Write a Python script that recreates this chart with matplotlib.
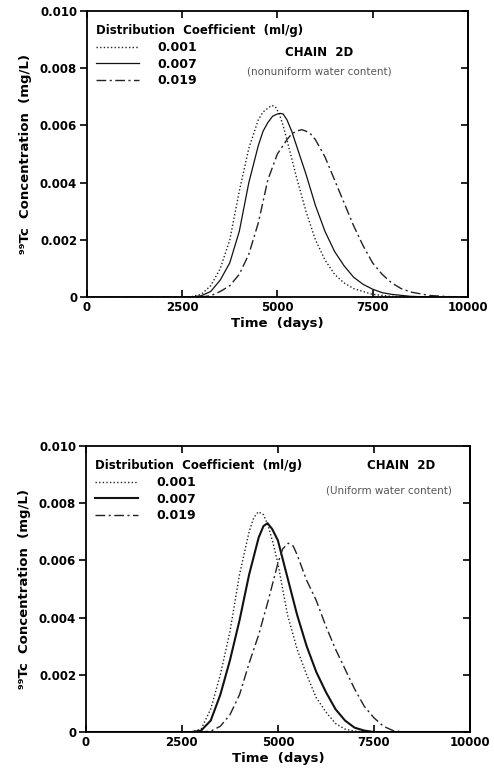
import matplotlib.pyplot as plt

plt.rcParams['font.family'] = ['DejaVu Sans']

# 时间 (days) 与浓度 (mg/L)
KD_LABELS = ['0.001', '0.007', '0.019']
LEGEND_TITLE = 'Distribution  Coefficient  (ml/g)'

# 上图: nonuniform water content
top_x_001 = [0, 2500, 2750, 3000, 3250, 3500, 3750, 4000, 4250, 4500, 4625, 4750, 4850, 4950,
             5050, 5150, 5250, 5500, 5750, 6000, 6250, 6500, 6750, 7000, 7500, 8000, 8500, 9000, 10000]
top_y_001 = [0, 0, 0.00002, 0.0001, 0.0004, 0.0010, 0.0020, 0.0037, 0.0052, 0.0062, 0.00647, 0.0066,
             0.0067, 0.00665, 0.0064, 0.0060, 0.0055, 0.0042, 0.0030, 0.0020, 0.0013, 0.0008, 0.0005,
             0.0003, 0.0001, 0.00003, 0.00001, 0, 0]

top_x_007 = [0, 2500, 2750, 3000, 3250, 3500, 3750, 4000, 4250, 4500, 4625, 4750, 4875, 5000, 5070,
             5150, 5250, 5375, 5500, 5750, 6000, 6250, 6500, 6750, 7000, 7250, 7500, 7750, 8000,
             8500, 9000, 9500, 10000]
top_y_007 = [0, 0, 0.00001, 0.00005, 0.0002, 0.0006, 0.0012, 0.0023, 0.0040, 0.0053, 0.0058, 0.0061,
             0.00632, 0.0064, 0.00642, 0.0064, 0.0062, 0.0058, 0.0053, 0.0043, 0.0032, 0.0023, 0.0016,
             0.0011, 0.0007, 0.00045, 0.00028, 0.00016, 0.0001, 0.00003, 0.00001, 0, 0]

top_x_019 = [0, 3000, 3250, 3500, 3750, 4000, 4250, 4500, 4750, 5000, 5250, 5375, 5500, 5640, 5750,
             5875, 6000, 6250, 6500, 6750, 7000, 7250, 7500, 7750, 8000, 8250, 8500, 9000, 9500, 10000]
top_y_019 = [0, 0.00001, 0.00005, 0.0002, 0.0004, 0.0008, 0.0015, 0.0026, 0.0041, 0.0050, 0.0055,
             0.0057, 0.0058, 0.00585, 0.0058, 0.0057, 0.0055, 0.0049, 0.0041, 0.0033, 0.0025, 0.0018,
             0.0012, 0.0008, 0.0005, 0.0003, 0.00018, 0.00006, 0.00002, 0]

# 下图: uniform water content
bot_x_001 = [0, 2750, 3000, 3250, 3500, 3750, 4000, 4250, 4375, 4490, 4625, 4750, 4875, 5000, 5250,
             5500, 5750, 6000, 6250, 6500, 6750, 7000, 7250, 10000]
bot_y_001 = [0, 0, 0.0001, 0.0008, 0.0020, 0.0035, 0.0055, 0.0070, 0.0075, 0.0077, 0.0076, 0.0072,
             0.0066, 0.0059, 0.0041, 0.0029, 0.0020, 0.0012, 0.0007, 0.0003, 0.0001, 0.00003, 0, 0]

bot_x_007 = [0, 2750, 3000, 3250, 3500, 3750, 4000, 4250, 4500, 4625, 4730, 4850, 5000, 5250, 5500,
             5750, 6000, 6250, 6500, 6750, 7000, 7250, 7500, 10000]
bot_y_007 = [0, 0, 0.00005, 0.0004, 0.0013, 0.0025, 0.0039, 0.0055, 0.0068, 0.0072, 0.0073, 0.0071,
             0.0067, 0.0054, 0.0041, 0.0030, 0.0021, 0.0014, 0.0008, 0.0004, 0.00015, 0.00005, 0, 0]

bot_x_019 = [0, 3000, 3250, 3500, 3750, 4000, 4250, 4500, 4750, 5000, 5125, 5270, 5400, 5500, 5750,
             6000, 6250, 6500, 6750, 7000, 7250, 7500, 7750, 8000, 8250, 10000]
bot_y_019 = [0, 0, 0.00003, 0.0002, 0.0006, 0.0013, 0.0024, 0.0034, 0.0046, 0.0059, 0.0064, 0.0066,
             0.0065, 0.0062, 0.0053, 0.0046, 0.0037, 0.0029, 0.0022, 0.0015, 0.0009, 0.0005, 0.0002,
             0.00005, 0, 0]

X_TICKS = [0, 2500, 5000, 7500, 10000]
Y_TICKS = [0, 0.002, 0.004, 0.006, 0.008, 0.010]
Y_TICK_LABELS = ['0', '0.002', '0.004', '0.006', '0.008', '0.010']


def style_axes(ax):
    ax.set_xlim(0, 10000)
    ax.set_ylim(0, 0.010)
    ax.set_xticks(X_TICKS)
    ax.set_xticklabels([str(t) for t in X_TICKS], fontsize=8.5, fontweight='bold')
    ax.set_yticks(Y_TICKS)
    ax.set_yticklabels(Y_TICK_LABELS, fontsize=8.5, fontweight='bold')
    ax.tick_params(axis='y', which='both', direction='out', length=5, width=1.2, pad=2, right=False)
    ax.tick_params(axis='x', which='both', direction='in', length=5, width=1.2, pad=3, top=True)
    # 右侧刻度朝内
    ax2 = ax.secondary_yaxis('right')
    ax2.set_yticks(Y_TICKS)
    ax2.tick_params(direction='in', length=5, width=1.2, labelright=False)
    for sp in ax.spines.values():
        sp.set_linewidth(1.3)
    ax2.spines['right'].set_linewidth(1.3)
    ax.set_xlabel('Time  (days)', fontsize=9.5, fontweight='bold', labelpad=2)
    ax.set_ylabel('⁹⁹Tc  Concentration  (mg/L)', fontsize=9.5, fontweight='bold', labelpad=6)


def draw_panel(ax, series, solid_lw, note_chain, note_sub):
    styles = [
        dict(linestyle=(0, (1, 1.6)), color='#222222', linewidth=1.0),
        dict(linestyle='-', color='#111111', linewidth=solid_lw),
        dict(linestyle=(0, (7, 2.5, 1.5, 2.5)), color='#222222', linewidth=1.0),
    ]
    for (x, y), label, st in zip(series, KD_LABELS, styles):
        ax.plot(x, y, label=label, **st)
    style_axes(ax)
    leg = ax.legend(title=LEGEND_TITLE, loc='upper left', bbox_to_anchor=(0.0, 0.985),
                    frameon=False, alignment='left', handlelength=3.5, handletextpad=1.4,
                    labelspacing=0.28, borderaxespad=0.3, borderpad=0.4,
                    prop={'size': 9, 'weight': 'bold'},
                    title_fontproperties={'size': 8.5, 'weight': 'bold'})
    leg._legend_box.sep = 3
    ax.text(note_chain[0], note_chain[1], 'CHAIN  2D', fontsize=8.5, fontweight='bold',
            ha='center', va='center')
    ax.text(note_sub[0], note_sub[1], note_sub[2], fontsize=7.5, color='#555555',
            ha='center', va='center')


fig = plt.figure(figsize=(4.94, 7.76), dpi=100)
ax_top = fig.add_axes([0.176, 0.617, 0.771, 0.369])
ax_bot = fig.add_axes([0.174, 0.0567, 0.777, 0.3686])

draw_panel(ax_top,
           [(top_x_001, top_y_001), (top_x_007, top_y_007), (top_x_019, top_y_019)],
           0.9, (6100, 0.00853), (6100, 0.00787, '(nonuniform water content)'))
draw_panel(ax_bot,
           [(bot_x_001, bot_y_001), (bot_x_007, bot_y_007), (bot_x_019, bot_y_019)],
           1.5, (8200, 0.0093), (7900, 0.00845, '(Uniform water content)'))

fig.savefig('out.png', dpi=100)
plt.close(fig)
